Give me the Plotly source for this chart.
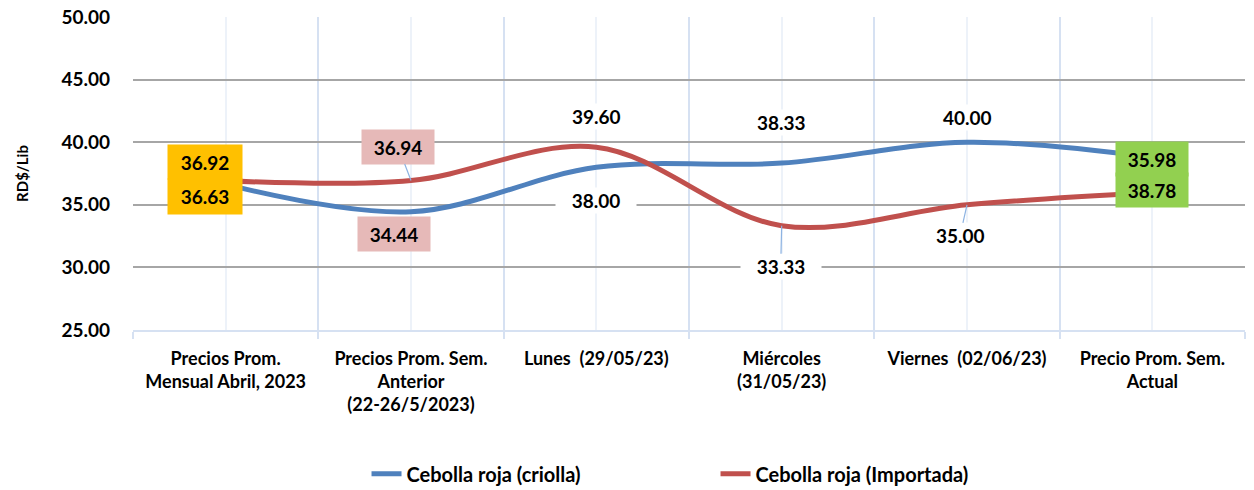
import plotly.graph_objects as go

categories = [
    "Precios Prom.<br>Mensual Abril, 2023",
    "Precios Prom. Sem.<br>Anterior<br>(22-26/5/2023)",
    "Lunes  (29/05/23)",
    "Miércoles<br>(31/05/23)",
    "Viernes  (02/06/23)",
    "Precio Prom. Sem.<br>Actual",
]
criolla = [36.63, 34.44, 38.00, 38.33, 40.00, 38.78]
importada = [36.92, 36.94, 39.60, 33.33, 35.00, 35.98]
y_ticks = [25, 30, 35, 40, 45, 50]

FONT = "Lato"
xs = list(range(len(categories)))

fig = go.Figure()
fig.add_trace(go.Scatter(x=xs, y=criolla, mode="lines", name="Cebolla roja (criolla)",
                         line=dict(color="#4f81bd", width=5, shape="spline", smoothing=1)))
fig.add_trace(go.Scatter(x=xs, y=importada, mode="lines", name="Cebolla roja (Importada)",
                         line=dict(color="#c0504d", width=5, shape="spline", smoothing=1)))

lab_font = dict(family=FONT, size=19, color="black", weight="bold")

def lab(values, i, xshift=0, yshift=0, bg=None, arrow=None, w=None, h=None):
    d = dict(x=i, y=values[i], xref="x", yref="y", text=f"{values[i]:.2f}",
             font=lab_font, xshift=xshift, yshift=yshift)
    if bg:
        d["bgcolor"] = bg
    if w:
        d["width"] = w
    if h:
        d["height"] = h
    if arrow:
        d.update(showarrow=True, arrowhead=0, arrowwidth=1.2, arrowcolor="#8db3e2",
                 ax=arrow[0], ay=arrow[1], xshift=0, yshift=0)
    else:
        d["showarrow"] = False
    fig.add_annotation(**d)

ORANGE = "#ffc000"
PINK = "#e6b9b8"
GREEN = "#92d050"
# Cat 1
lab(importada, 0, xshift=-21, yshift=19, bg=ORANGE, w=72, h=32)
lab(criolla, 0, xshift=-21, yshift=-12, bg=ORANGE, w=72, h=33)
# Cat 2
lab(importada, 1, bg=PINK, w=70, h=32, arrow=(-13, -34))
lab(criolla, 1, xshift=-17, yshift=-22, bg=PINK, w=70, h=32)
# Cat 3
lab(importada, 2, yshift=31, bg="white")
lab(criolla, 2, yshift=-33, bg="white", w=78)
# Cat 4
lab(criolla, 3, yshift=41, bg="white")
lab(importada, 3, bg="white", w=78, arrow=(-1, 41))
# Cat 5
lab(criolla, 4, yshift=25, bg="white")
lab(importada, 4, bg="white", arrow=(-7, 31))
# Cat 6
lab(importada, 5, yshift=34, bg=GREEN, w=70, h=32)
lab(criolla, 5, yshift=-33, bg=GREEN, w=70, h=32)

fig.update_layout(
    width=1254, height=490,
    margin=dict(l=133, r=9, t=17, b=160, autoexpand=False),
    paper_bgcolor="white", plot_bgcolor="white",
    font=dict(family=FONT, size=18, color="black"),
    showlegend=True,
    legend=dict(orientation="h", x=0.21, xanchor="left",
                yref="container", y=0.033, yanchor="middle",
                font=dict(family=FONT, size=20, color="black", weight="bold"),
                entrywidth=304, entrywidthmode="pixels"),
    xaxis=dict(
        range=[-0.5, len(categories) - 0.5], automargin=False,
        tickmode="array", tickvals=xs, ticktext=categories,
        tickfont=dict(family=FONT, size=18, color="black", weight="bold"),
        showgrid=True, gridcolor="#edf2f9", gridwidth=1.5,
        showline=True, linecolor="#d6e1f2", linewidth=2,
        ticks="", ticklabelstandoff=11,
        minor=dict(tickvals=[i - 0.5 for i in range(len(categories) + 1)],
                   showgrid=True, gridcolor="#d6e1f2", gridwidth=1.5,
                   ticks="outside", ticklen=7, tickcolor="#d6e1f2", tickwidth=1.5),
        zeroline=False, fixedrange=True,
    ),
    yaxis=dict(
        range=[25, 50], tickmode="array", tickvals=y_ticks, automargin=False,
        ticktext=[f"{v:.2f}" for v in y_ticks], ticklabeloverflow="allow",
        tickfont=dict(family=FONT, size=19, color="black", weight="bold"),
        showgrid=True, gridcolor="#a6a6a6", gridwidth=1.5,
        zeroline=False, showline=False, ticklabelstandoff=22,
        title=dict(text="RD$/Lib", font=dict(family=FONT, size=15, color="black", weight="bold"),
                   standoff=29),
    ),
)

fig.write_html("out.html", config={"displayModeBar": False},
               post_script="document.body.style.margin='0';")
